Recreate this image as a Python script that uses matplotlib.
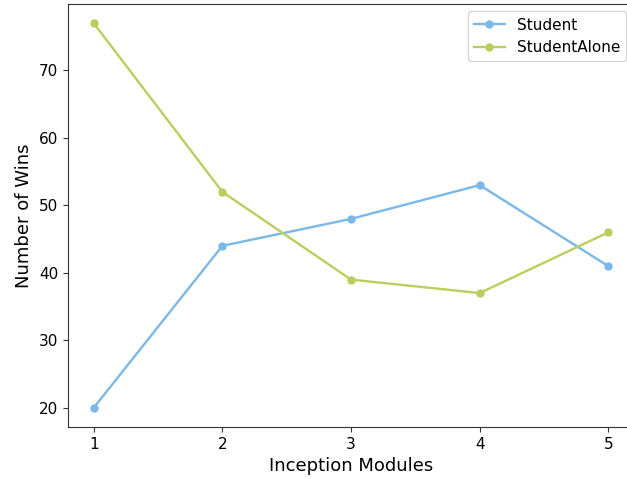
import numpy as np
import matplotlib
matplotlib.use("Agg")
import matplotlib.pyplot as plt

modules = [1, 2, 3, 4, 5]
student = [20, 44, 48, 53, 41]
student_alone = [77, 52, 39, 37, 46]

fig = plt.figure(figsize=(6.27, 4.79), dpi=100)
ax = fig.add_axes([68 / 627, 52 / 479, 566 / 627, 423 / 479])

ax.plot(modules, student, marker='o', color='#7ab8ea', markersize=5, lw=1.7, label='Student')
ax.plot(modules, student_alone, marker='o', color='#bccd5e', markersize=5, lw=1.7, label='StudentAlone')

ax.set_xticks(modules)
ax.set_yticks([20, 30, 40, 50, 60, 70])
ax.tick_params(labelsize=11, color='#333333')
for s in ax.spines.values():
    s.set_color('#333333')
ax.set_xlabel('Inception Modules', fontsize=13)
ax.set_ylabel('Number of Wins', fontsize=13)
ax.legend(loc='upper right', bbox_to_anchor=(1.011, 0.992), bbox_transform=fig.transFigure,
          fontsize=11)

fig.savefig('out.png', dpi=100)
